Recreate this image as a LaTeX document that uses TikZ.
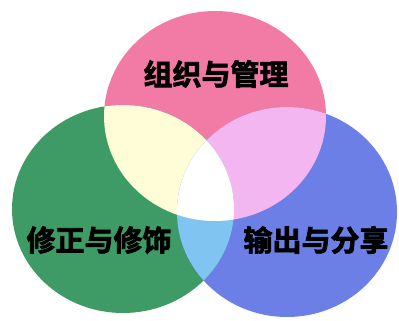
\documentclass[tikz,border=0pt]{standalone}
\usepackage{fontspec}
\newfontfamily\cjk{Noto Sans CJK SC}[BoldFont={Noto Sans CJK SC Bold},BoldFeatures={FakeBold=2.5}]
\definecolor{cpink}{HTML}{F27BA6}
\definecolor{cgreen}{HTML}{3E9B66}
\definecolor{cblue}{HTML}{6B7FE6}
\definecolor{cyellow}{HTML}{FFFDD8}
\definecolor{cmag}{HTML}{F4B6F0}
\definecolor{ccyan}{HTML}{80C4F2}
\tikzset{lbl/.style={font=\cjk\bfseries\fontsize{29}{29}\selectfont, text=black, inner sep=0pt}}
\begin{document}
\begin{tikzpicture}[x=1pt,y=-1pt]
\useasboundingbox (0,0) rectangle (399,321);
\fill[white] (0,0) rectangle (399,321);
\def\P{(215,116) ellipse [x radius=111, y radius=105]}
\def\G{(123,209) ellipse [x radius=111, y radius=104]}
\def\B{(287,212) ellipse [x radius=110, y radius=105]}
\fill[cpink] \P;
\fill[cgreen] \G;
\fill[cblue] \B;
\begin{scope}
\clip \P; \fill[cyellow] \G;
\end{scope}
\begin{scope}
\clip \P; \fill[cmag] \B;
\end{scope}
\begin{scope}
\clip \G; \fill[ccyan] \B;
\end{scope}
\begin{scope}
\clip \P; \clip \G; \fill[white] \B;
\end{scope}
\node[lbl] (top) at (216,74) {组织与管理};
\node[lbl] (left) at (99,240) {修正与修饰};
\node[lbl] (right) at (316,240) {输出与分享};
\end{tikzpicture}
\end{document}
